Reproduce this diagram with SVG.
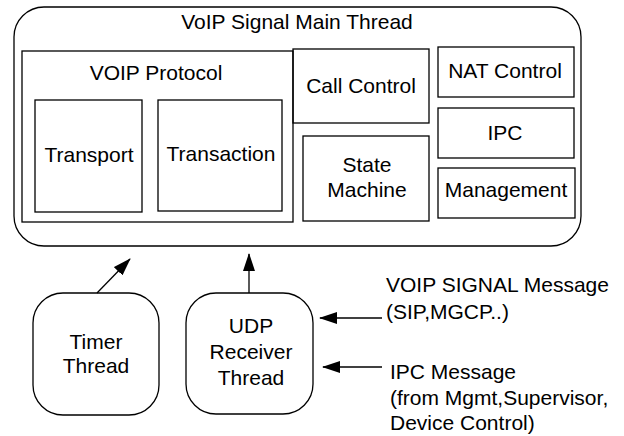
<svg xmlns="http://www.w3.org/2000/svg" width="624" height="436" viewBox="0 0 624 436">
<defs>
<style>
.b{fill:none;stroke:#000;stroke-width:1.3}
.t{font-family:"Liberation Sans",Arial,sans-serif;font-size:21px;fill:#000}
.m{text-anchor:middle}
.c{stroke:#000;stroke-width:1.3;fill:none}
</style>
<marker id="ah" viewBox="0 0 18 12" refX="17" refY="6" markerWidth="18" markerHeight="12" markerUnits="userSpaceOnUse" orient="auto">
<path d="M0,0 L18,6 L0,12 Z" fill="#000"/>
</marker>
</defs>
<rect width="624" height="436" fill="#fff"/>
<g id="main-thread">
<rect class="b" x="14" y="7" width="567" height="239" rx="30" ry="30"/>
<text class="t m" x="297" y="29">VoIP Signal Main Thread</text>
</g>
<g id="voip-protocol">
<rect class="b" x="22" y="51" width="271" height="171"/>
<text class="t m" x="156" y="80">VOIP Protocol</text>
</g>
<g id="transport">
<rect class="b" x="35" y="100" width="107" height="112"/>
<text class="t m" x="89" y="162">Transport</text>
</g>
<g id="transaction">
<rect class="b" x="158" y="100" width="124" height="111"/>
<text class="t m" x="221" y="161">Transaction</text>
</g>
<g id="call-control">
<rect class="b" x="293" y="49" width="136" height="74"/>
<text class="t m" x="361" y="93">Call Control</text>
</g>
<g id="state-machine">
<rect class="b" x="303" y="136" width="126" height="85"/>
<text class="t m" x="367" y="172">State</text>
<text class="t m" x="367" y="197">Machine</text>
</g>
<g id="nat-control">
<rect class="b" x="438" y="47" width="136" height="50"/>
<text class="t m" x="505" y="78">NAT Control</text>
</g>
<g id="ipc">
<rect class="b" x="438" y="108" width="136" height="50"/>
<text class="t m" x="505" y="140">IPC</text>
</g>
<g id="management">
<rect class="b" x="438" y="168" width="137" height="50"/>
<text class="t m" x="506" y="197">Management</text>
</g>
<g id="timer-thread">
<rect class="b" x="33" y="293" width="126" height="122" rx="30" ry="30"/>
<text class="t m" x="96" y="349">Timer</text>
<text class="t m" x="96" y="373">Thread</text>
</g>
<g id="udp-receiver-thread">
<rect class="b" x="186" y="293" width="127" height="121" rx="30" ry="30"/>
<text class="t m" x="251" y="333">UDP</text>
<text class="t m" x="251" y="359">Receiver</text>
<text class="t m" x="251" y="385">Thread</text>
</g>
<g id="voip-signal-label">
<text class="t" x="386" y="292">VOIP SIGNAL Message</text>
<text class="t" x="386" y="319">(SIP,MGCP..)</text>
</g>
<g id="ipc-message-label">
<text class="t" x="390" y="379">IPC Message</text>
<text class="t" x="390" y="405">(from Mgmt,Supervisor,</text>
<text class="t" x="390" y="430">Device Control)</text>
</g>
<g id="connectors">
<line class="c" x1="97" y1="293" x2="130" y2="259" marker-end="url(#ah)"/>
<line class="c" x1="249" y1="293" x2="249" y2="254" marker-end="url(#ah)"/>
<line class="c" x1="382" y1="318" x2="320" y2="318" marker-end="url(#ah)"/>
<line class="c" x1="382" y1="367" x2="323" y2="367" marker-end="url(#ah)"/>
</g>
</svg>
